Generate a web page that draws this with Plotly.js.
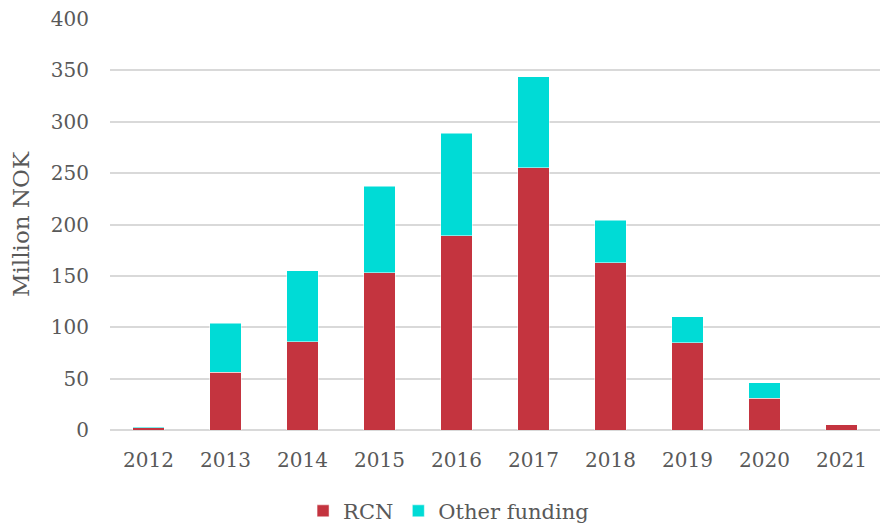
<!DOCTYPE html>
<html>
<head>
<meta charset="utf-8">
<script src="https://cdn.plot.ly/plotly-3.0.1.min.js"></script>
<style>html,body{margin:0;padding:0;background:#fff}#chart{width:883px;height:527px}</style>
</head>
<body>
<div id="chart"></div>
<script>
const years = ["2012","2013","2014","2015","2016","2017","2018","2019","2020","2021"];
const rcn = [2, 56, 86, 153, 189, 255, 163, 85, 31, 5];
const otherFunding = [1, 48, 69, 84, 100, 89, 41, 25, 15, 0];
const yTicks = [0, 50, 100, 150, 200, 250, 300, 350, 400];

const fam = '"DejaVu Serif", Georgia, serif';
const font = {family: fam, color: "#595959", size: 20};

const traces = [
  {type: "bar", name: "RCN", x: years, y: rcn,
   marker: {color: "#C4343F", line: {color: "#ffffff", width: 0.5}}},
  {type: "bar", name: "Other funding", x: years, y: otherFunding,
   marker: {color: "#00DBD6", line: {color: "#ffffff", width: 0.5}}}
];

const layout = {
  width: 883, height: 527,
  margin: {l: 110, r: 3, t: 19, b: 97},
  barmode: "stack",
  bargap: 0.59,
  paper_bgcolor: "#ffffff", plot_bgcolor: "#ffffff",
  font: font,
  showlegend: true,
  legend: {orientation: "h", xref: "container", yref: "container", x: 0.508, xanchor: "center",
           y: 0.03, yanchor: "middle", font: {family: fam, color: "#595959", size: 21},
           itemwidth: 30, traceorder: "normal"},
  xaxis: {type: "category", tickfont: font, ticks: "", showgrid: false, showline: false,
          ticklabelstandoff: 16, fixedrange: true},
  yaxis: {range: [0, 400], tickvals: yTicks, tickfont: font, showgrid: true, gridcolor: "#d9d9d9",
          gridwidth: 2, zeroline: true, zerolinecolor: "#d9d9d9", zerolinewidth: 2,
          ticklabelstandoff: 20, showline: false,
          title: {text: "Million NOK", font: {family: fam, color: "#595959", size: 23}, standoff: 14}}
};

Plotly.newPlot("chart", traces, layout, {displayModeBar: false, staticPlot: true});
</script>
</body>
</html>
